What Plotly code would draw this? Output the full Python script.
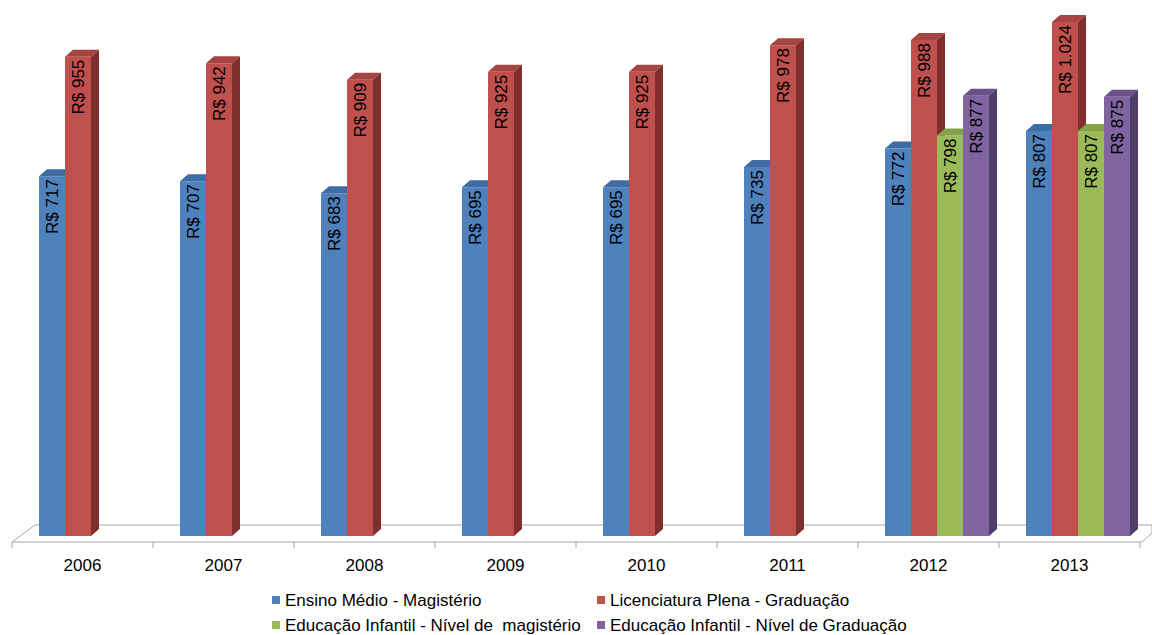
import plotly.graph_objects as go

# --- data ---------------------------------------------------------------
years = ["2006", "2007", "2008", "2009", "2010", "2011", "2012", "2013"]
series_names = [
    "Ensino Médio - Magistério",
    "Licenciatura Plena - Graduação",
    "Educação Infantil - Nível de  magistério",
    "Educação Infantil - Nível de Graduação",
]
ensino_medio_magisterio = [717, 707, 683, 695, 695, 735, 772, 807]
licenciatura_plena_graduacao = [955, 942, 909, 925, 925, 978, 988, 1024]
infantil_nivel_magisterio = [None, None, None, None, None, None, 798, 807]
infantil_nivel_graduacao = [None, None, None, None, None, None, 877, 875]

series_values = [
    ensino_medio_magisterio,
    licenciatura_plena_graduacao,
    infantil_nivel_magisterio,
    infantil_nivel_graduacao,
]

# --- styling ------------------------------------------------------------
front_colors = ["#4F81BD", "#C0504D", "#9BBB59", "#8064A2"]
top_colors = ["#3F6CA3", "#A54441", "#84A24B", "#6A5289"]
side_colors = ["#2F5180", "#7F302E", "#627A37", "#4F3E68"]

FONT = "Liberation Sans, Arial"
W, H = 1152, 635
M_L, M_R, M_T, M_B = 12, 0, 8, 99
PLOT_W = W - M_L - M_R
PLOT_H = H - M_T - M_B

cat_px = 141.0                      # pixels per category
x_range = [-0.5, -0.5 + PLOT_W / cat_px]
y_range = [0, 1052]

bar_w_px = 26.0
group_left_px = -43.5               # left edge of first bar relative to the category centre
bar_width = bar_w_px / cat_px

# oblique depth used for the top and side faces
depth_dx = 8.0 / cat_px
depth_dy = 7.0 * (y_range[1] - y_range[0]) / PLOT_H


def px_to_paper_x(px):
    return (px - M_L) / PLOT_W


def px_to_paper_y(py):
    return (H - M_B - py) / PLOT_H


def data_to_paper_x(x):
    return (x - x_range[0]) / (x_range[1] - x_range[0])


def brl(v):
    return "R$ " + f"{v:,}".replace(",", ".")


fig = go.Figure()

bar_centers = []
for k, (name, vals) in enumerate(zip(series_names, series_values)):
    offset = (group_left_px + bar_w_px * k + bar_w_px / 2) / cat_px
    xs = [i + offset for i in range(len(years))]
    bar_centers.append(xs)
    fig.add_trace(go.Bar(
        x=xs,
        y=vals,
        width=bar_width,
        name=name,
        marker=dict(color=front_colors[k], line=dict(width=0)),
        text=[brl(v) if v is not None else "" for v in vals],
        textposition="inside",
        insidetextanchor="end",
        textangle=-90,
        textfont=dict(family=FONT, size=17, color="#000000"),
        constraintext="none",
        showlegend=False,
        hoverinfo="skip",
    ))

# top and side faces, clipped where the next bar of the group covers them
for k, vals in enumerate(series_values):
    top_x, top_y, side_x, side_y = [], [], [], []
    for i, v in enumerate(vals):
        if v is None:
            continue
        xl = bar_centers[k][i] - bar_width / 2
        xr = bar_centers[k][i] + bar_width / 2
        nxt = series_values[k + 1][i] if k + 1 < len(series_values) else None
        h = nxt if nxt is not None else 0
        if h >= v + depth_dy:
            top_x += [xl, xl + depth_dx, xr, xr, None]
            top_y += [v, v + depth_dy, v + depth_dy, v, None]
        else:
            top_x += [xl, xl + depth_dx, xr + depth_dx, xr, None]
            top_y += [v, v + depth_dy, v + depth_dy, v, None]
            if h == 0:
                side_x += [xr, xr + depth_dx, xr + depth_dx, xr, None]
                side_y += [0, depth_dy, v + depth_dy, v, None]
            elif h < v:
                side_x += [xr, xr + depth_dx, xr + depth_dx, xr, None]
                side_y += [h, h, v + depth_dy, v, None]
    for fx, fy, col in ((top_x, top_y, top_colors[k]), (side_x, side_y, side_colors[k])):
        if fx:
            fig.add_trace(go.Scatter(
                x=fx, y=fy, mode="lines", fill="toself",
                fillcolor=col, line=dict(width=0, color=col),
                showlegend=False, hoverinfo="skip",
            ))

# --- floor --------------------------------------------------------------
floor_col = "#A6A6A6"
fl, fr = px_to_paper_x(12), px_to_paper_x(1142)
bl, br = px_to_paper_x(35), px_to_paper_x(1152)
y_front, y_back, y_rb = px_to_paper_y(542), px_to_paper_y(525), px_to_paper_y(533)
fig.add_shape(
    type="path", xref="paper", yref="paper", layer="below",
    path=f"M {fl} {y_front} L {fr} {y_front} L {br} {y_rb} L {br} {y_back} L {bl} {y_back} Z",
    fillcolor="#FFFFFF", line=dict(color=floor_col, width=1),
)
y_tick = px_to_paper_y(548)
for b in range(len(years) + 1):
    xb = data_to_paper_x(b - 0.5)
    fig.add_shape(type="line", xref="paper", yref="paper", layer="below",
                  x0=xb, x1=xb, y0=y_front, y1=y_tick,
                  line=dict(color=floor_col, width=1))

# --- legend -------------------------------------------------------------
legend_rows = [600, 625]
legend_cols = [(272, 284), (597, 609)]
for k, name in enumerate(series_names):
    row, col = divmod(k, 2)
    cy = legend_rows[row]
    sq, tx = legend_cols[col]
    fig.add_shape(type="rect", xref="paper", yref="paper",
                  x0=px_to_paper_x(sq), x1=px_to_paper_x(sq + 8),
                  y0=px_to_paper_y(cy + 4), y1=px_to_paper_y(cy - 4),
                  fillcolor=front_colors[k], line=dict(width=0))
    fig.add_annotation(xref="paper", yref="paper",
                       x=px_to_paper_x(tx), y=px_to_paper_y(cy),
                       xanchor="left", yanchor="middle", showarrow=False,
                       borderpad=0,
                       text=name.replace("  ", "&nbsp; "),
                       font=dict(family=FONT, size=17, color="#000000"))

fig.update_layout(
    width=W, height=H,
    margin=dict(l=M_L, r=M_R, t=M_T, b=M_B),
    paper_bgcolor="#FFFFFF", plot_bgcolor="rgba(0,0,0,0)",
    barmode="overlay",
    showlegend=False,
    xaxis=dict(
        range=x_range, tickmode="array",
        tickvals=list(range(len(years))), ticktext=years,
        showgrid=False, zeroline=False, showline=False, ticks="",
        ticklabelstandoff=17,
        tickfont=dict(family=FONT, size=17, color="#000000"),
        fixedrange=True,
    ),
    yaxis=dict(range=y_range, visible=False, fixedrange=True),
)

fig.write_html("out.html")
